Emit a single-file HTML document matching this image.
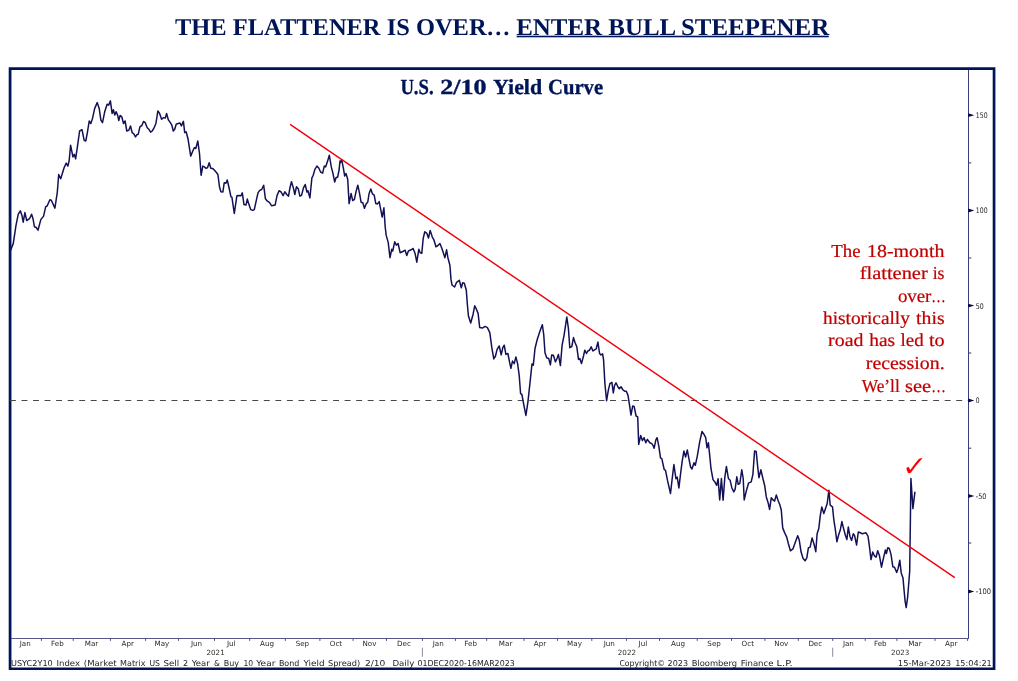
<!DOCTYPE html>
<html><head><meta charset="utf-8"><title>The Flattener Is Over</title>
<style>
html,body{margin:0;padding:0;background:#fff;}
body{width:1018px;height:681px;position:relative;overflow:hidden;}
text{font-family:"Liberation Sans",sans-serif;text-rendering:geometricPrecision;}
.ax{font-family:"DejaVu Sans",sans-serif;font-size:7.6px;fill:#222;}
.mo{font-family:"DejaVu Sans",sans-serif;font-size:7.15px;fill:#2a2a2a;}
.ft{font-family:"DejaVu Sans",sans-serif;font-size:8.1px;fill:#222;}
.ttl{font-family:"Liberation Serif",serif;font-weight:bold;font-size:24px;fill:#001458;}
.sub{font-family:"Liberation Serif",serif;font-weight:bold;font-size:21.5px;fill:#001458;stroke:#001458;stroke-width:0.35px;}
.ann{font-family:"Liberation Serif",serif;font-size:18.3px;fill:#c00000;stroke:#c00000;stroke-width:0.22px;}
</style></head><body>
<svg width="1018" height="681" viewBox="0 0 1018 681" style="position:absolute;left:0;top:0">
<path d="M8.7 67.35H995.4V670.1H8.7ZM11.45 70.1V667.4H992.7V70.1Z" fill="#001458" fill-rule="evenodd"/>
<path d="M968.5 70V639" stroke="#3c3c78" stroke-width="1" fill="none"/>
<path d="M11 638.5H969" stroke="#56568a" stroke-width="1.1" fill="none"/>
<path d="M422.4 647.7V656.8" stroke="#8c8c9c" stroke-width="1" fill="none"/>
<path d="M832.7 647.7V656.8" stroke="#8c8c9c" stroke-width="1" fill="none"/>
<path d="M41.4 639V640.9M73.2 639V640.9M110.4 639V640.9M145.6 639V640.9M178.6 639V640.9M214.5 639V640.9M249.7 639V640.9M285.3 639V640.9M319.9 639V640.9M353.1 639V640.9M386.5 639V640.9M422.4 639V640.9M455.4 639V640.9M486.7 639V640.9M524.0 639V640.9M557.4 639V640.9M591.8 639V640.9M626.6 639V640.9M659.5 639V640.9M697.2 639V640.9M731.5 639V640.9M764.9 639V640.9M798.3 639V640.9M832.7 639V640.9M865.2 639V640.9M896.9 639V640.9M935.0 639V640.9M967.6 639V640.9" stroke="#4a4a84" stroke-width="1" fill="none"/>
<path d="M968.2 113.3L974.3 115.2L968.2 117.1Z" fill="#08084a"/>
<text x="975.8" y="118.1" class="ax" textLength="11.8" lengthAdjust="spacingAndGlyphs">150</text>
<path d="M968.2 208.6L974.3 210.5L968.2 212.4Z" fill="#08084a"/>
<text x="975.8" y="213.4" class="ax" textLength="11.8" lengthAdjust="spacingAndGlyphs">100</text>
<path d="M968.2 303.7L974.3 305.6L968.2 307.5Z" fill="#08084a"/>
<text x="975.8" y="308.5" class="ax" textLength="8.0" lengthAdjust="spacingAndGlyphs">50</text>
<path d="M968.2 398.6L974.3 400.5L968.2 402.4Z" fill="#08084a"/>
<text x="975.8" y="403.4" class="ax" textLength="3.8" lengthAdjust="spacingAndGlyphs">0</text>
<path d="M968.2 494.1L974.3 496.0L968.2 497.9Z" fill="#08084a"/>
<text x="975.8" y="498.9" class="ax" textLength="10.6" lengthAdjust="spacingAndGlyphs">-50</text>
<path d="M968.2 589.6L974.3 591.5L968.2 593.4Z" fill="#08084a"/>
<text x="975.8" y="594.4" class="ax" textLength="15.3" lengthAdjust="spacingAndGlyphs">-100</text>
<path d="M969 162.9H971.3M969 258.0H971.3M969 353.0H971.3M969 448.2H971.3M969 543.0H971.3" stroke="#2e2e6e" stroke-width="1" fill="none"/>
<path d="M9.96 400.5H968" stroke="#484848" stroke-width="1.1" stroke-dasharray="5.9 5.64" fill="none"/>
<polyline points="10.5,250.4 13.3,243.4 15.9,225.8 18.2,214.3 20.3,210.8 22.1,216.1 23.2,222.2 24.9,212.6 26.7,220.5 29.5,218.7 31.6,214.3 33.0,218.7 34.4,226.7 36.2,227.5 38.0,230.2 40.8,219.6 43.6,216.1 45.7,206.7 47.1,206.0 49.9,199.7 51.3,200.2 54.9,208.1 57.3,192.3 58.7,174.5 60.7,178.7 64.1,167.8 66.2,163.1 67.9,166.1 69.2,160.3 70.6,145.2 72.9,156.9 74.3,154.4 75.6,158.9 77.4,146.9 79.6,131.0 82.0,129.7 84.1,140.2 85.8,141.0 87.5,131.8 89.2,121.0 90.8,123.5 92.5,118.4 94.7,108.4 97.2,102.6 99.2,108.4 100.9,120.1 102.5,122.6 104.7,111.8 107.1,104.2 108.7,105.1 110.4,100.9 112.1,113.4 113.4,109.7 114.8,115.1 116.1,111.8 117.6,115.1 118.8,120.6 120.1,115.4 121.8,116.8 123.5,123.5 125.1,121.0 126.8,131.0 128.8,130.2 130.5,126.0 132.2,132.7 133.8,133.8 135.5,136.9 136.8,134.8 138.2,134.3 139.9,126.8 141.9,125.5 143.5,121.5 145.2,122.6 147.2,127.7 148.9,129.3 150.6,132.2 152.2,131.0 153.9,128.2 155.9,123.5 157.9,110.9 159.6,113.4 161.6,119.3 163.6,117.6 165.3,118.1 166.6,113.4 168.3,119.8 170.0,122.1 171.7,124.8 173.3,131.0 174.7,129.3 176.2,124.3 178.0,123.5 180.0,123.1 181.4,125.9 183.4,121.4 184.7,132.6 186.1,131.8 188.1,139.3 190.7,156.1 192.8,151.0 194.4,147.7 195.8,148.5 197.8,141.0 199.5,153.5 201.1,175.3 202.8,166.1 204.5,166.9 205.8,168.3 207.5,167.8 209.2,162.8 210.8,168.3 212.8,168.6 214.5,170.3 216.2,172.3 217.9,174.5 219.5,187.0 220.9,191.7 222.9,192.0 224.2,182.8 225.9,183.3 227.2,180.0 228.9,187.0 230.9,196.7 231.9,197.1 234.3,213.5 236.9,195.7 238.9,195.4 241.0,195.7 242.3,192.9 244.0,204.6 246.0,205.1 247.3,199.1 249.0,204.6 250.7,209.6 252.7,210.4 254.3,209.6 256.3,200.4 258.0,192.9 259.7,190.4 261.7,189.5 263.7,185.3 265.4,198.7 267.4,201.2 269.4,202.4 271.7,205.8 275.1,205.1 277.1,195.4 279.1,190.7 281.1,192.0 283.1,195.7 284.8,191.7 286.8,194.5 288.5,196.2 290.1,187.0 291.5,181.7 293.5,188.4 294.8,194.5 296.5,186.7 298.2,188.7 299.9,196.2 301.5,195.4 303.5,187.9 305.2,184.5 306.9,192.0 307.9,190.7 309.9,197.9 311.9,177.8 313.2,175.3 314.9,169.4 316.9,166.1 318.6,167.8 320.6,172.0 322.6,173.1 324.3,166.1 325.6,166.9 327.6,161.1 329.3,155.2 331.3,166.9 333.0,173.6 334.7,182.0 336.0,177.8 337.7,177.0 339.0,170.3 340.0,161.1 340.4,162.6 341.7,159.7 343.4,168.4 344.7,176.0 346.0,173.5 347.7,179.3 349.1,203.6 351.1,193.5 352.7,200.6 354.4,199.4 356.4,190.2 357.8,185.2 359.4,192.7 361.1,202.2 362.8,202.8 364.5,208.3 366.1,203.9 367.8,201.9 369.1,193.5 370.8,188.9 372.5,193.9 374.2,195.2 375.8,203.6 377.5,203.9 379.2,201.6 380.9,210.3 382.2,217.0 383.9,207.8 385.2,227.0 386.2,235.4 388.2,242.4 390.0,257.7 391.7,249.3 392.7,251.0 394.7,241.8 396.4,245.1 398.1,243.5 400.1,252.7 402.8,251.5 405.1,250.2 406.8,255.5 408.4,251.0 411.1,249.8 413.1,248.5 415.1,253.5 416.8,262.2 418.8,249.3 420.2,252.7 421.8,253.2 423.2,238.4 424.8,231.8 426.9,233.4 428.5,238.1 430.2,230.4 432.2,236.8 433.9,239.8 435.9,246.8 437.9,245.5 439.9,243.5 441.9,248.5 444.9,257.7 446.6,249.8 447.9,257.7 449.9,265.2 451.0,279.4 452.0,285.0 454.6,287.0 456.6,282.3 459.3,280.3 461.3,287.8 462.7,282.8 464.3,283.3 466.3,290.3 467.3,303.7 468.4,315.8 470.7,323.0 473.1,314.2 474.7,305.8 476.4,309.2 478.1,313.4 479.7,327.6 482.4,328.1 485.1,326.4 487.4,327.6 489.8,332.6 491.8,347.7 493.8,358.9 495.5,356.0 497.1,349.3 499.2,346.0 501.2,354.9 502.8,347.7 504.2,345.2 505.9,354.4 507.9,353.5 509.5,361.9 510.9,368.3 512.5,361.1 514.2,363.6 515.9,356.9 517.6,363.6 519.2,375.3 520.6,393.7 521.9,394.5 523.9,405.4 525.9,415.4 527.9,402.1 529.9,383.6 532.0,363.9 533.3,365.2 535.0,348.5 537.3,339.3 540.0,330.9 542.3,324.7 543.7,334.3 545.0,352.7 546.7,357.7 548.7,358.5 550.4,364.9 551.7,354.9 553.4,355.2 555.4,361.9 557.1,358.2 558.4,354.4 560.4,365.6 562.1,345.2 564.1,335.1 566.8,317.0 568.4,328.4 569.8,347.7 571.8,346.5 573.5,337.6 575.1,342.7 576.8,346.8 578.5,359.4 579.8,358.5 581.5,363.6 583.5,356.0 584.8,350.2 586.5,353.5 587.8,351.0 589.5,350.2 591.2,346.8 592.9,351.0 594.5,349.8 596.2,348.8 597.9,342.1 599.6,353.5 600.9,354.9 602.6,353.9 603.6,360.2 604.9,383.6 606.6,400.7 608.3,390.3 609.9,383.6 611.9,382.3 613.3,392.9 614.6,385.3 616.0,382.8 618.0,387.0 619.3,388.7 621.0,386.7 623.0,390.0 624.7,391.2 626.3,391.2 628.0,395.4 629.3,403.7 631.0,415.1 632.7,405.9 634.1,406.4 636.1,416.0 637.7,416.8 638.7,444.4 640.7,435.6 642.4,440.6 644.1,437.7 645.8,442.8 647.4,439.4 649.8,442.8 651.8,443.6 653.1,445.6 654.1,448.3 655.8,440.2 657.1,437.7 658.8,446.1 660.5,457.8 661.8,458.6 664.2,469.5 665.5,470.4 667.5,480.4 670.5,493.5 672.2,478.7 673.9,464.5 675.9,478.7 677.2,477.1 678.9,487.9 680.6,473.7 682.2,461.2 683.9,451.1 685.6,457.0 687.3,449.9 688.9,458.6 690.6,467.0 692.0,469.0 694.0,462.8 695.3,465.3 697.3,456.1 699.7,441.9 702.0,431.5 704.0,434.4 705.7,437.7 707.0,447.8 708.4,442.8 709.7,455.3 711.0,468.7 713.0,479.6 714.7,481.7 716.7,485.4 718.1,478.7 719.7,499.9 721.4,478.5 723.1,500.2 724.8,477.7 726.4,466.4 728.4,478.5 730.1,480.2 731.8,487.7 733.8,491.9 735.1,489.4 736.8,476.8 738.2,484.3 739.8,483.5 741.8,469.8 743.2,478.5 744.2,499.9 746.5,490.2 748.5,483.2 751.2,481.8 752.9,474.3 754.6,450.9 756.2,451.4 757.6,465.9 758.9,477.7 760.9,469.8 762.9,478.5 764.6,485.2 766.3,496.9 767.9,501.9 769.6,509.4 771.3,497.7 773.3,500.2 774.6,501.1 776.3,494.9 778.0,500.2 780.0,505.3 781.3,510.3 782.7,527.9 784.7,532.9 786.7,537.1 788.4,543.7 790.4,550.8 793.0,548.8 795.4,542.1 797.7,535.7 799.1,539.6 799.4,541.2 801.1,552.1 803.1,558.4 805.1,560.8 806.8,557.9 808.4,547.9 810.1,547.1 812.1,537.9 814.1,544.5 815.8,551.7 817.1,533.7 818.8,528.6 820.2,516.1 821.8,506.9 823.8,513.6 825.5,508.6 827.2,503.5 828.9,490.2 830.2,505.2 832.5,506.9 833.9,520.3 835.2,528.6 836.9,541.7 838.6,535.0 840.2,530.3 841.9,521.6 843.6,528.6 845.3,535.0 846.9,539.5 848.3,527.0 849.9,536.2 851.6,540.4 853.3,533.7 854.6,535.7 856.6,545.0 858.3,532.0 860.3,532.8 862.3,533.7 864.0,533.3 866.0,532.8 868.0,536.2 869.4,546.2 871.0,559.6 872.7,552.1 874.4,555.8 876.1,557.1 877.7,550.7 879.4,555.4 881.5,567.2 883.3,558.8 885.4,550.0 886.4,553.5 887.8,547.8 889.3,548.5 891.0,554.4 892.8,566.7 894.5,567.2 896.7,572.5 898.1,568.5 899.8,560.2 901.2,572.9 903.0,578.1 904.1,590.5 905.1,601.1 906.2,607.6 907.6,597.5 908.6,585.2 909.7,571.1 910.0,547.3 910.4,520.0 910.9,478.4 912.9,508.6 914.9,492.2" fill="none" stroke="#131156" stroke-width="1.5" stroke-linejoin="round" stroke-linecap="round"/>
<path d="M290.1 124.3L954.8 577.6" stroke="#f2000c" stroke-width="1.45" fill="none"/>
<text transform="translate(901.5 475.6) scale(3.14 2.868)" style="font-family:'DejaVu Sans',sans-serif;font-size:10px;fill:#fb0000;stroke:#fff;stroke-width:0.1px">✓</text>
<text x="25.2" y="646" class="mo" text-anchor="middle">Jan</text>
<text x="57.4" y="646" class="mo" text-anchor="middle">Feb</text>
<text x="91.5" y="646" class="mo" text-anchor="middle">Mar</text>
<text x="127.7" y="646" class="mo" text-anchor="middle">Apr</text>
<text x="161.9" y="646" class="mo" text-anchor="middle">May</text>
<text x="196.5" y="646" class="mo" text-anchor="middle">Jun</text>
<text x="231.3" y="646" class="mo" text-anchor="middle">Jul</text>
<text x="267.0" y="646" class="mo" text-anchor="middle">Aug</text>
<text x="302.4" y="646" class="mo" text-anchor="middle">Sep</text>
<text x="336.0" y="646" class="mo" text-anchor="middle">Oct</text>
<text x="369.4" y="646" class="mo" text-anchor="middle">Nov</text>
<text x="403.9" y="646" class="mo" text-anchor="middle">Dec</text>
<text x="438.2" y="646" class="mo" text-anchor="middle">Jan</text>
<text x="470.6" y="646" class="mo" text-anchor="middle">Feb</text>
<text x="505.6" y="646" class="mo" text-anchor="middle">Mar</text>
<text x="540.0" y="646" class="mo" text-anchor="middle">Apr</text>
<text x="574.5" y="646" class="mo" text-anchor="middle">May</text>
<text x="609.3" y="646" class="mo" text-anchor="middle">Jun</text>
<text x="642.9" y="646" class="mo" text-anchor="middle">Jul</text>
<text x="678.0" y="646" class="mo" text-anchor="middle">Aug</text>
<text x="714.1" y="646" class="mo" text-anchor="middle">Sep</text>
<text x="747.8" y="646" class="mo" text-anchor="middle">Oct</text>
<text x="781.3" y="646" class="mo" text-anchor="middle">Nov</text>
<text x="815.3" y="646" class="mo" text-anchor="middle">Dec</text>
<text x="848.4" y="646" class="mo" text-anchor="middle">Jan</text>
<text x="880.3" y="646" class="mo" text-anchor="middle">Feb</text>
<text x="914.9" y="646" class="mo" text-anchor="middle">Mar</text>
<text x="951.2" y="646" class="mo" text-anchor="middle">Apr</text>
<text x="215.6" y="654.5" class="mo" text-anchor="middle">2021</text>
<text x="626.9" y="654.5" class="mo" text-anchor="middle">2022</text>
<text x="900.2" y="654.5" class="mo" text-anchor="middle">2023</text>
<text y="666" class="ft"><tspan x="11.0" textLength="41.7" lengthAdjust="spacingAndGlyphs">USYC2Y10</tspan> <tspan x="56.5" textLength="23.5" lengthAdjust="spacingAndGlyphs">Index</tspan> <tspan x="83.8" textLength="32.7" lengthAdjust="spacingAndGlyphs">(Market</tspan> <tspan x="120.1" textLength="25.3" lengthAdjust="spacingAndGlyphs">Matrix</tspan> <tspan x="149.4" textLength="10.5" lengthAdjust="spacingAndGlyphs">US</tspan> <tspan x="163.5" textLength="15.6" lengthAdjust="spacingAndGlyphs">Sell</tspan> <tspan x="182.9" textLength="5.1" lengthAdjust="spacingAndGlyphs">2</tspan> <tspan x="191.8" textLength="17.9" lengthAdjust="spacingAndGlyphs">Year</tspan> <tspan x="214.1" textLength="5.9" lengthAdjust="spacingAndGlyphs">&amp;</tspan> <tspan x="223.8" textLength="15.3" lengthAdjust="spacingAndGlyphs">Buy</tspan> <tspan x="243.5" textLength="9.7" lengthAdjust="spacingAndGlyphs">10</tspan> <tspan x="256.3" textLength="19.1" lengthAdjust="spacingAndGlyphs">Year</tspan> <tspan x="278.9" textLength="20.4" lengthAdjust="spacingAndGlyphs">Bond</tspan> <tspan x="303.5" textLength="21.0" lengthAdjust="spacingAndGlyphs">Yield</tspan> <tspan x="328.0" textLength="32.2" lengthAdjust="spacingAndGlyphs">Spread)</tspan> <tspan x="364.9" textLength="20.5" lengthAdjust="spacingAndGlyphs">2/10</tspan> <tspan x="392.4" textLength="21.9" lengthAdjust="spacingAndGlyphs">Daily</tspan> <tspan x="417.4" textLength="97.3" lengthAdjust="spacingAndGlyphs">01DEC2020-16MAR2023</tspan> <tspan x="619.4" textLength="45.6" lengthAdjust="spacingAndGlyphs">Copyright©</tspan> <tspan x="667.6" textLength="20.4" lengthAdjust="spacingAndGlyphs">2023</tspan> <tspan x="691.7" textLength="45.4" lengthAdjust="spacingAndGlyphs">Bloomberg</tspan> <tspan x="740.8" textLength="32.7" lengthAdjust="spacingAndGlyphs">Finance</tspan> <tspan x="776.6" textLength="16.1" lengthAdjust="spacingAndGlyphs">L.P.</tspan> <tspan x="897.8" textLength="53.4" lengthAdjust="spacingAndGlyphs">15-Mar-2023</tspan> <tspan x="955.2" textLength="36.6" lengthAdjust="spacingAndGlyphs">15:04:21</tspan> </text>
<text x="175.0" y="34.5" class="ttl" textLength="311.6" lengthAdjust="spacingAndGlyphs">THE FLATTENER IS OVER</text>
<text x="486.3" y="34.5" class="ttl">…</text>
<text x="516.2" y="34.5" class="ttl" textLength="313" lengthAdjust="spacingAndGlyphs">ENTER BULL STEEPENER</text>
<rect x="516.6" y="35.7" width="312.2" height="1.6" fill="#001458"/>
<text x="400.4" y="93.8" class="sub" textLength="33.2" lengthAdjust="spacingAndGlyphs">U.S.</text>
<text x="440.2" y="93.8" class="sub" textLength="46.4" lengthAdjust="spacingAndGlyphs">2/10</text>
<text x="493.1" y="93.8" class="sub" textLength="49.0" lengthAdjust="spacingAndGlyphs">Yield</text>
<text x="548.0" y="93.8" class="sub" textLength="55.1" lengthAdjust="spacingAndGlyphs">Curve</text>
<text x="831.3" y="256.5" class="ann" textLength="29.2" lengthAdjust="spacingAndGlyphs">The</text>
<text x="867.1" y="256.5" class="ann" textLength="77.4" lengthAdjust="spacingAndGlyphs">18-month</text>
<text x="859.8" y="279.3" class="ann" textLength="67.9" lengthAdjust="spacingAndGlyphs">flattener</text>
<text x="932.7" y="279.3" class="ann" textLength="11.8" lengthAdjust="spacingAndGlyphs">is</text>
<text x="897.9" y="301.9" class="ann" textLength="33.5" lengthAdjust="spacingAndGlyphs">over</text>
<text x="931.3" y="301.9" class="ann" textLength="14.5" lengthAdjust="spacingAndGlyphs">…</text>
<text x="823.0" y="323.6" class="ann" textLength="86.9" lengthAdjust="spacingAndGlyphs">historically</text>
<text x="916.1" y="323.6" class="ann" textLength="28.5" lengthAdjust="spacingAndGlyphs">this</text>
<text x="828.1" y="346.3" class="ann" textLength="35.3" lengthAdjust="spacingAndGlyphs">road</text>
<text x="869.3" y="346.3" class="ann" textLength="25.8" lengthAdjust="spacingAndGlyphs">has</text>
<text x="900.6" y="346.3" class="ann" textLength="23.1" lengthAdjust="spacingAndGlyphs">led</text>
<text x="928.9" y="346.3" class="ann" textLength="15.7" lengthAdjust="spacingAndGlyphs">to</text>
<text x="865.8" y="368.7" class="ann" textLength="78.8" lengthAdjust="spacingAndGlyphs">recession.</text>
<text x="861.7" y="391.6" class="ann" textLength="38.0" lengthAdjust="spacingAndGlyphs">We’ll</text>
<text x="905.1" y="391.6" class="ann" textLength="26.0" lengthAdjust="spacingAndGlyphs">see</text>
<text x="931.3" y="391.6" class="ann" textLength="14.6" lengthAdjust="spacingAndGlyphs">…</text>
</svg>
</body></html>
